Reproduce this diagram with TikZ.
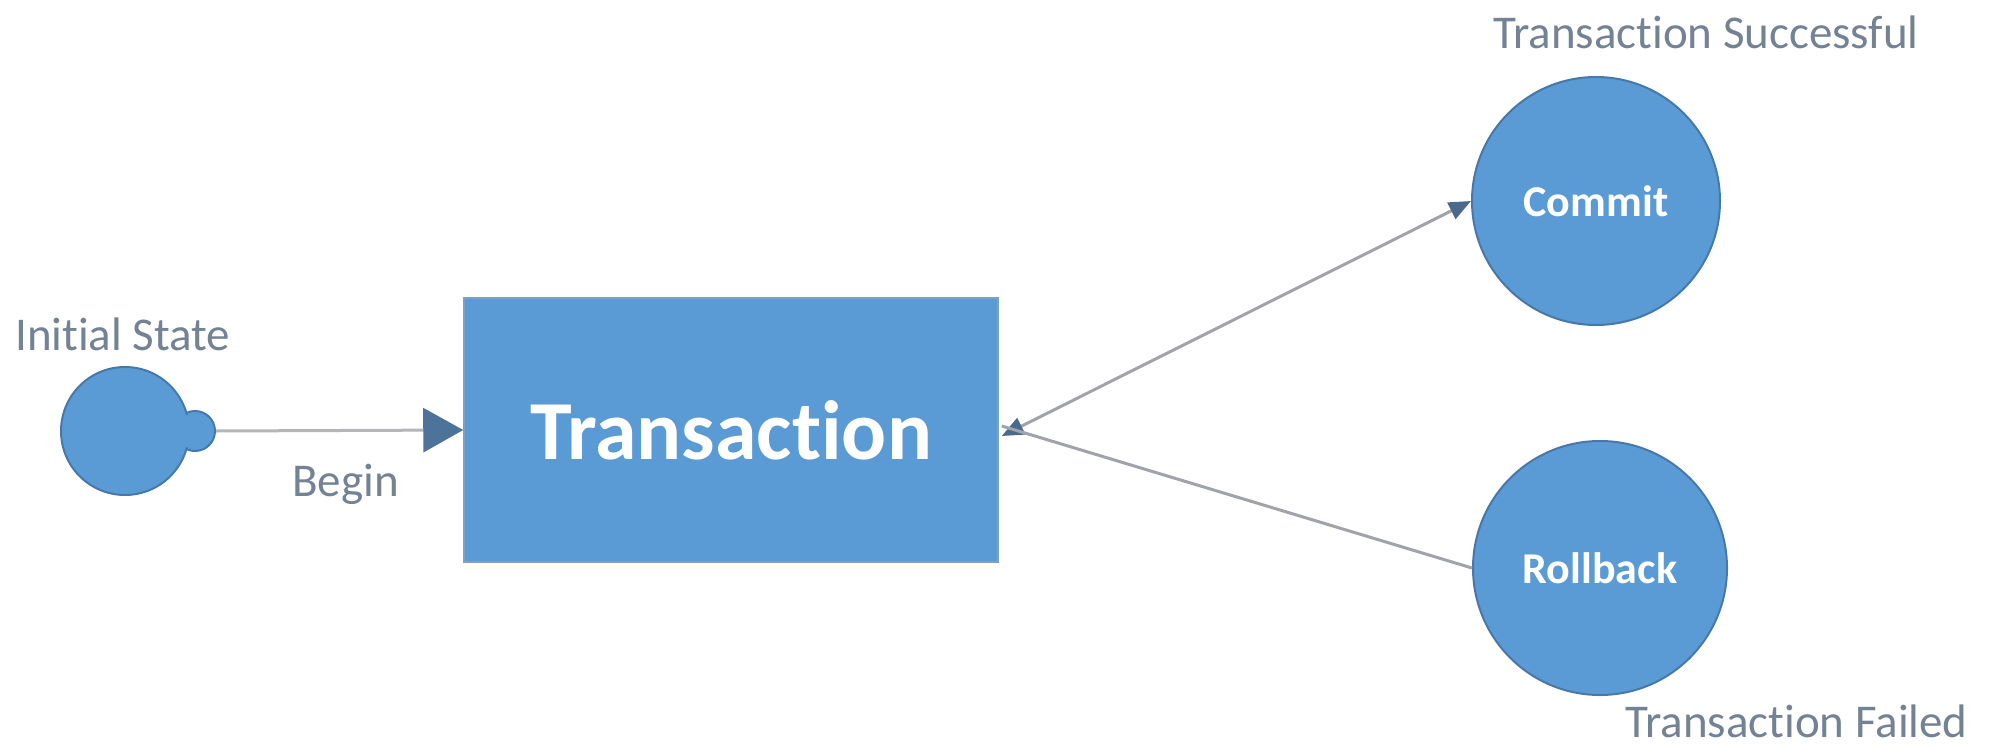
\documentclass[tikz,border=0pt]{standalone}
\usepackage{fontspec}
\setmainfont{Carlito}[Ligatures=NoCommon]
\usetikzlibrary{arrows.meta}
\definecolor{fillblue}{RGB}{91,155,213}
\definecolor{edgeblue}{RGB}{70,120,170}
\definecolor{labelgrey}{RGB}{115,130,148}
\definecolor{linegrey}{RGB}{160,163,170}
\definecolor{tipblue}{RGB}{75,105,140}
\tikzset{
  state/.style={circle, fill=fillblue, draw=edgeblue, line width=2pt, inner sep=0pt},
  box/.style={rectangle, fill=fillblue, draw=edgeblue!70, line width=1.5pt, inner sep=0pt},
  lbl/.style={text=labelgrey, font=\fontsize{47}{56}\selectfont, inner sep=0pt},
  wlbl/.style={text=white, font=\bfseries\fontsize{44}{52}\selectfont},
  conn/.style={draw=linegrey, line width=3pt},
}
\begin{document}
\begin{tikzpicture}[x=1pt,y=-1pt]
\useasboundingbox[fill=white] (0,0) rectangle (1989,749);
% nodes
\node[state, minimum size=40pt] (tail) at (195,431) {};
\node[state, minimum size=128pt] (init) at (125,431) {};
\fill[fillblue] (tail.center) circle (18pt);
\node[box, minimum width=534pt, minimum height=264pt, text=white,
      font=\bfseries\fontsize{84}{96}\selectfont] (trans) at (731,430) {Transaction};
\node[state, minimum size=248pt, wlbl] (commit) at (1596,201) {Commit};
\node[state, minimum size=254pt, wlbl] (rollback) at (1600,568) {Rollback};
% labels
\node[lbl, anchor=base west] (lInit) at (15,350) {Initial State};
\node[lbl, anchor=base west] (lBegin) at (292,496) {Begin};
\node[lbl, anchor=base west] (lSucc) at (1493,49) {Transaction Successful};
\node[lbl, anchor=base west] (lFail) at (1625,737) {Transaction Failed};
% connectors
\coordinate (j) at ([xshift=3pt,yshift=-6pt]trans.east);
\draw[conn, draw=linegrey!80, -{Triangle[length=40pt,width=44pt,fill=tipblue!80!fillblue,color=tipblue!80!fillblue]}]
  (tail.east) -- (trans.west);
\draw[conn, {Triangle[length=22pt,width=18pt,color=tipblue]}-{Triangle[length=22pt,width=18pt,color=tipblue]}]
  (j) -- (commit.west);
\draw[conn] ([yshift=10pt]j) -- (rollback.west);
\end{tikzpicture}
\end{document}
